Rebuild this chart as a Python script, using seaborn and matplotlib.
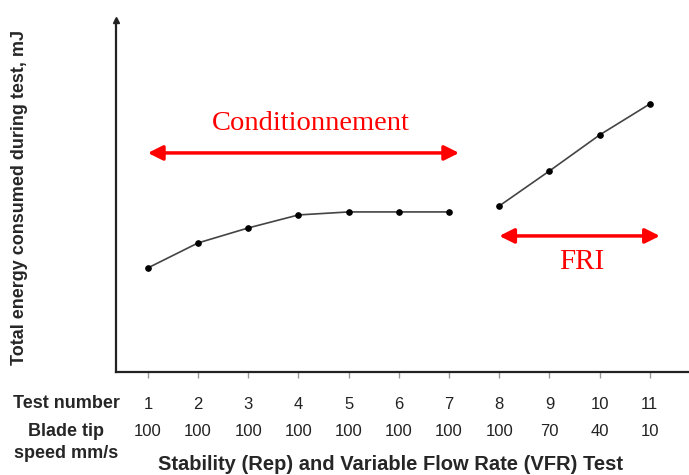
import numpy as np
import pandas as pd
import matplotlib
matplotlib.use("Agg")
import matplotlib.pyplot as plt
import seaborn as sns

# values (energy in arbitrary units, axis has no scale)
test_number = [1, 2, 3, 4, 5, 6, 7, 8, 9, 10, 11]
blade_speed = [100, 100, 100, 100, 100, 100, 100, 100, 70, 40, 10]
energy = [104, 129, 144, 157, 160, 160, 160, 166, 201, 237, 268]
phase = ["Rep"] * 7 + ["VFR"] * 4

df = pd.DataFrame({"test": test_number, "energy": energy, "phase": phase})

sns.set_style("white")
plt.rcParams["font.family"] = ["Liberation Sans", "DejaVu Sans"]

fig = plt.figure(figsize=(6.89, 4.75), dpi=100)
ax = fig.add_axes([0.168, 0.217, 0.832, 0.741])

for name, grp in df.groupby("phase"):
    sns.lineplot(data=grp, x="test", y="energy", ax=ax, color="#444444",
                 lw=1.2, marker="o", markersize=4, markerfacecolor="black",
                 markeredgecolor="black", clip_on=False)

ax.set_xlim(0.36, 11.78)
ax.set_ylim(0, 352)

for s in ["top", "right"]:
    ax.spines[s].set_visible(False)
for s in ["left", "bottom"]:
    ax.spines[s].set_color("#222222")
    ax.spines[s].set_linewidth(1.6)

# arrow head on the y axis
ax.plot([0], [1], marker="^", color="#222222", markersize=5,
        transform=ax.transAxes, clip_on=False)

ax.set_yticks([])
ax.set_xticks(test_number)
ax.set_xticklabels([str(t) for t in test_number], fontsize=12, color="#222222")
ax.tick_params(axis="x", bottom=True, direction="out", length=4, width=1,
               color="#999999", pad=14)
ax.set_xlabel("")
ax.set_ylabel("Total energy consumed during test, mJ", fontsize=13,
              fontweight="bold")
ax.yaxis.set_label_coords(-0.1536, 0.497)

trans = matplotlib.transforms.blended_transform_factory(ax.transData, ax.transAxes)
for t, v in zip(test_number, blade_speed):
    ax.text(t, -0.170, str(v), transform=trans, ha="center", va="center",
            fontsize=12, color="#222222")

fig.text(66 / 689, 1 - 403 / 475, "Test number", ha="center", va="center",
         fontsize=13, fontweight="bold")
fig.text(66 / 689, 1 - 432 / 475, "Blade tip", ha="center", va="center",
         fontsize=13, fontweight="bold")
fig.text(66 / 689, 1 - 453 / 475, "speed mm/s", ha="center", va="center",
         fontsize=13, fontweight="bold")
fig.text(390 / 689, 1 - 464 / 475,
         "Stability (Rep) and Variable Flow Rate (VFR) Test",
         ha="center", va="center", fontsize=14.5, fontweight="bold")

# red range arrows
arrow = dict(arrowstyle="<|-|>", color="red", lw=2.5, mutation_scale=22,
             shrinkA=0, shrinkB=0)
ax.annotate("", xy=(1.0, 219), xytext=(7.2, 219), arrowprops=arrow)
ax.text(4.25, 248, "Conditionnement", color="red", fontsize=20.5,
        family="Liberation Serif", ha="center", va="center")
ax.annotate("", xy=(8.0, 136), xytext=(11.2, 136), arrowprops=arrow)
ax.text(9.65, 110, "FRI", color="red", fontsize=21,
        family="Liberation Serif", ha="center", va="center")

fig.savefig("out.png", dpi=100)
